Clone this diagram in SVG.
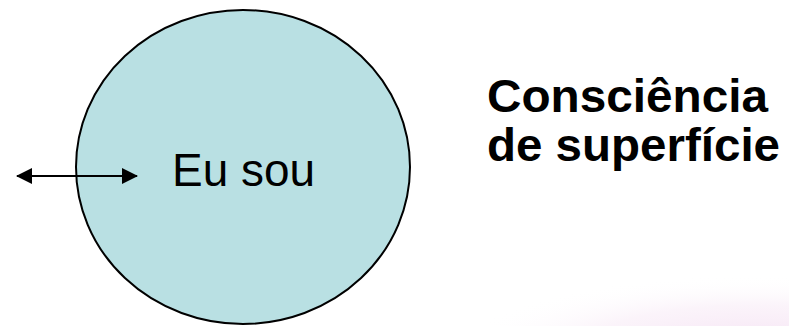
<svg xmlns="http://www.w3.org/2000/svg" width="789" height="326" viewBox="0 0 789 326">
  <defs>
    <style>
      .lbl { font-family: "Liberation Sans", Arial, sans-serif; fill: #000; }
      .title { font-family: "Liberation Sans", Arial, sans-serif; font-weight: bold; fill: #000; }
      .conn { stroke: #000; stroke-width: 2; fill: none; }
    </style>
    <marker id="ah" viewBox="0 0 16 16" refX="15" refY="8" markerWidth="16" markerHeight="16" markerUnits="userSpaceOnUse" orient="auto-start-reverse">
      <path d="M0,0 L16,8 L0,16 Z" fill="#000"/>
    </marker>
    <radialGradient id="pink" cx="0.5" cy="0.5" r="0.5">
      <stop offset="0" stop-color="#f0d4ee" stop-opacity="0.7"/>
      <stop offset="0.6" stop-color="#f6e6f4" stop-opacity="0.45"/>
      <stop offset="1" stop-color="#ffffff" stop-opacity="0"/>
    </radialGradient>
  </defs>
  <rect width="789" height="326" fill="#ffffff"/>
  <ellipse cx="760" cy="350" rx="300" ry="75" fill="url(#pink)"/>
  <g id="node-eusou">
    <ellipse cx="243" cy="167" rx="167" ry="157" fill="#b9e0e3" stroke="#000" stroke-width="2"/>
    <text class="lbl" x="172" y="186" font-size="47" textLength="143" lengthAdjust="spacingAndGlyphs">Eu sou</text>
  </g>
  <g id="node-title">
    <text class="title" x="487" y="112" font-size="46" textLength="281" lengthAdjust="spacingAndGlyphs">Consciência</text>
    <text class="title" x="487" y="161" font-size="46" textLength="293" lengthAdjust="spacingAndGlyphs">de superfície</text>
  </g>
  <g id="connectors">
    <line class="conn" x1="17" y1="176" x2="137" y2="176" marker-start="url(#ah)" marker-end="url(#ah)"/>
  </g>
</svg>
